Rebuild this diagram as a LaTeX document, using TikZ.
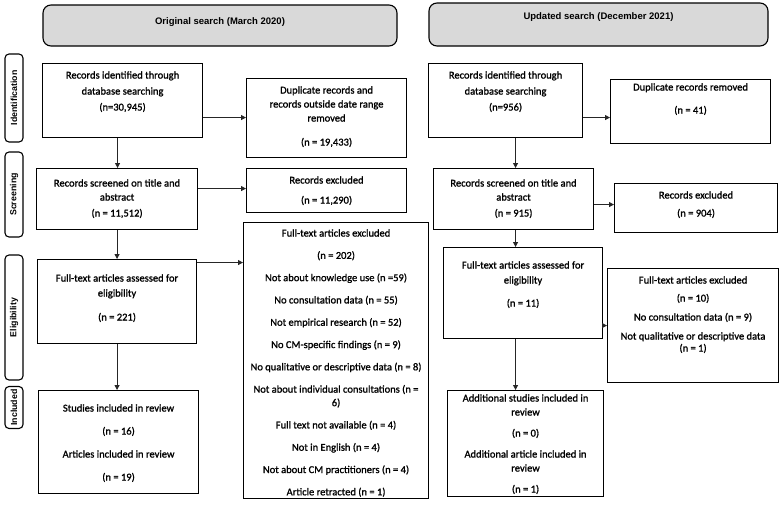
\documentclass[tikz,border=0pt]{standalone}
\usepackage{fontspec}
\setmainfont{Carlito}[FakeBold=1.2]
\newfontfamily\hdrfont{Liberation Sans}
\usetikzlibrary{arrows.meta,calc}
\definecolor{hdrgray}{RGB}{217,217,217}
\newcommand\boxtxt[4]{\begin{minipage}[c][#2pt][t]{#1pt}\fontsize{10.5}{14}\selectfont\centering\vspace*{#3pt}#4\end{minipage}}
\tikzset{
  box/.style={draw=black, line width=1.1pt, inner sep=0pt, anchor=north west, fill=white},
  hdr/.style={draw=black, line width=1.1pt, rounded corners=8pt, fill=hdrgray, inner sep=0pt,
    font=\hdrfont\bfseries\fontsize{9.5}{11}\selectfont},
  side/.style={draw=black, line width=1.1pt, rounded corners=4pt, rotate=90, inner sep=0pt,
    minimum height=18pt, font=\hdrfont\bfseries\fontsize{8.8}{10}\selectfont},
  arr/.style={draw=black!85, line width=0.8pt, -{Triangle[length=5pt,width=5pt]}}
}
\begin{document}
\begin{tikzpicture}[x=1pt,y=-1pt]
\useasboundingbox (0,0) rectangle (780,504);
% headers
\node[hdr, minimum width=354pt, minimum height=41pt] (h1) at (220,25.5)
  {\raisebox{3.5pt}[\height][\depth]{Original search (March 2020)}};
\node[hdr, minimum width=339pt, minimum height=43pt] (h2) at (598.5,24.5)
  {\raisebox{7.5pt}[\height][\depth]{Updated search (December 2021)}};
% side labels
\node[side, minimum width=88pt] (sid) at (14,98) {Identification};
\node[side, minimum width=85pt] (sscr) at (14,194.5) {Screening};
\node[side, minimum width=125pt] (selig) at (14,317.5) {Eligibility};
\node[side, minimum width=42pt] (sincl) at (14,407.5) {Included};
% left column
\node[box] (b1) at (42,63) {\boxtxt{160}{74}{7.7}{Records identified through\\[2pt]database searching\\[2pt](n=30,945)}};
\node[box] (b2) at (246,78) {\boxtxt{160}{79}{7.7}{Duplicate records and\\records outside date range\\removed\\[10pt](n = 19,433)}};
\node[box] (b3) at (36,168) {\boxtxt{161}{61}{10.7}{Records screened on title and\\abstract\\[2pt](n = 11,512)}};
\node[box] (b4) at (246,168) {\boxtxt{160}{44}{7.7}{Records excluded\\[6pt](n = 11,290)}};
\node[box] (b5) at (37,259) {\boxtxt{159}{84}{14.7}{Full-text articles assessed for\\[1pt]eligibility\\[10pt](n = 221)}};
\node[box] (b6) at (243,222) {\boxtxt{185}{276}{6.7}{Full-text articles excluded\\[8.3pt](n = 202)\\[8.3pt]Not about knowledge use (n =59)\\[8.3pt]No consultation data (n = 55)\\[8.3pt]Not empirical research (n = 52)\\[8.3pt]No CM-specific findings (n = 9)\\[8.3pt]No qualitative or descriptive data (n = 8)\\[8.3pt]Not about individual consultations (n =\\[-0.5pt]6)\\[8.3pt]Full text not available (n = 4)\\[8.3pt]Not in English (n = 4)\\[8.3pt]Not about CM practitioners (n = 4)\\[8.3pt]Article retracted (n = 1)}};
\node[box] (b7) at (38,390) {\boxtxt{160}{103}{13.7}{Studies included in review\\[9pt](n = 16)\\[9pt]Articles included in review\\[9pt](n = 19)}};
% right column
\node[box] (r1) at (428,63) {\boxtxt{154}{74}{7.7}{Records identified through\\[2pt]database searching\\[2pt](n=956)}};
\node[box] (r2) at (610,79) {\boxtxt{160}{64}{3.7}{Duplicate records removed\\[9pt](n = 41)}};
\node[box] (r3) at (433,168) {\boxtxt{160}{61}{10.7}{Records screened on title and\\abstract\\[2pt](n = 915)}};
\node[box] (r4) at (614,183) {\boxtxt{163}{49}{7.7}{Records excluded\\[4pt](n = 904)}};
\node[box] (r5) at (443,247) {\boxtxt{159}{91}{13.7}{Full-text articles assessed for\\[1pt]eligibility\\[9pt](n = 11)}};
\node[box] (r6) at (607,268) {\boxtxt{171}{114}{7.7}{Full-text articles excluded\\[4pt](n = 10)\\[5pt]No consultation data (n = 9)\\[5pt]Not qualitative or descriptive data\\[-2pt](n = 1)}};
\node[box] (r7) at (447,390) {\boxtxt{156}{106}{3.7}{Additional studies included in\\review\\[7pt](n = 0)\\[7pt]Additional article included in\\review\\[7pt](n = 1)}};
% arrows left
\draw[arr] ([yshift=-17pt]b1.east) -- ([yshift=-17pt]b1.east -| b2.west);
\draw[arr] ([xshift=-5pt]b1.south) -- ([xshift=-5pt]b1.south |- b3.north);
\draw[arr] ([yshift=10.5pt]b3.east) -- ([yshift=10.5pt]b3.east -| b4.west);
\draw[arr] (b3.south) -- (b3.south |- b5.north);
\draw[arr] ([yshift=39pt]b5.east) -- ([yshift=39pt]b5.east -| b6.west);
\draw[arr] (b5.south) -- (b5.south |- b7.north);
% arrows right
\draw[arr] ([yshift=-17pt]r1.east) -- ([yshift=-17pt]r1.east -| r2.west);
\draw[arr] ([xshift=10pt]r1.south) -- ([xshift=10pt]r1.south |- r3.north);
\draw[arr] ([yshift=-5.5pt]r3.east) -- ([yshift=-5.5pt]r3.east -| r4.west);
\draw[arr] ([xshift=2pt]r3.south) -- ([xshift=2pt]r3.south |- r5.north);
\draw[arr] ([yshift=-32.5pt]r5.east) -- ([yshift=-32.5pt]r5.east -| r6.west);
\draw[arr] ([xshift=-7.5pt]r5.south) -- ([xshift=-7.5pt]r5.south |- r7.north);
\end{tikzpicture}
\end{document}
